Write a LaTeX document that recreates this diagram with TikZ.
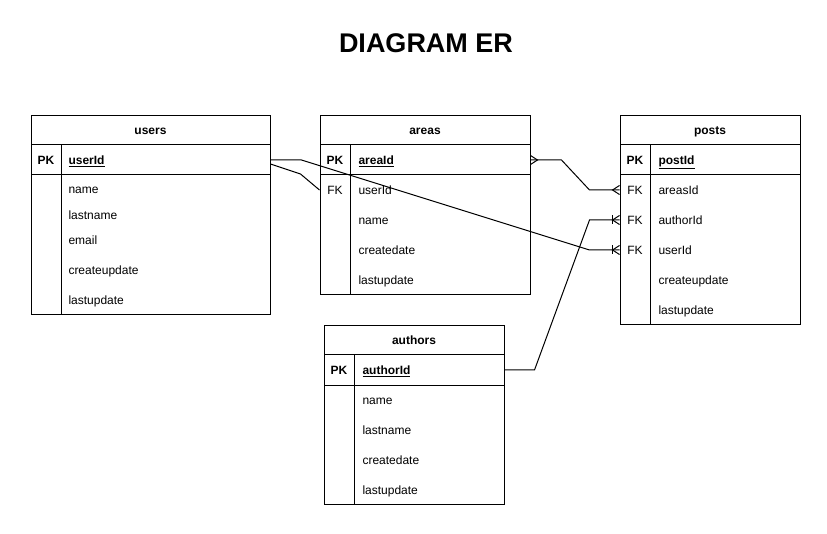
\documentclass[tikz,border=0pt]{standalone}
\usepackage{fontspec}
\setmainfont{Liberation Sans}
\begin{document}
\begin{tikzpicture}[x=1pt,y=-1pt,line width=1pt,
  tbl/.style={draw,line width=1pt,anchor=north west,inner sep=0pt},
  rowbox/.style={inner sep=0pt,minimum height=30pt},
  hdr/.style={anchor=base,inner sep=0pt,font=\fontsize{12}{14}\selectfont\bfseries},
  keylbl/.style={anchor=base,inner sep=0pt,font=\fontsize{12}{14}\selectfont\bfseries},
  fklbl/.style={anchor=base,inner sep=0pt,font=\fontsize{12}{14}\selectfont},
  pkfld/.style={anchor=base west,inner sep=0pt,font=\fontsize{12}{14}\selectfont\bfseries},
  fld/.style={anchor=base west,inner sep=0pt,font=\fontsize{12}{14}\selectfont},
  conn/.style={draw,line width=1pt}]
\fill[white] (0,0) rectangle (827,534);
\useasboundingbox (0,0) rectangle (827,534);

% title
\node[inner sep=0pt,font=\fontsize{27}{30}\selectfont\bfseries] (title) at (426,43) {DIAGRAM ER};

% ---------- users ----------
\node[tbl,minimum width=239pt,minimum height=199pt] (users) at (31,115) {};
\draw (users.north west) ++(0,30) -- ++(239,0);
\draw (users.north west) ++(0,60) -- ++(239,0);
\draw ([xshift=30pt,yshift=-30pt]users.north west) -- ([xshift=30pt]users.south west);
\node[rowbox,minimum width=239pt] (u-userid) at (150.5,160) {};
\node[hdr] (u-h) at (150.5,134.5) {users};
\node[keylbl] (u-pk) at (46,164.5) {PK};
\node[pkfld] (u-f0) at (68,164.5) {\underline{userId}};
\node[fld] (u-f1) at (68,194) {name};
\node[fld] (u-f2) at (68,219.5) {lastname};
\node[fld] (u-f3) at (68,244.5) {email};
\node[fld] (u-f4) at (68,274.5) {createupdate};
\node[fld] (u-f5) at (68,304.5) {lastupdate};

% ---------- areas ----------
\node[tbl,minimum width=210pt,minimum height=179pt] (areas) at (320,115) {};
\draw (areas.north west) ++(0,30) -- ++(210,0);
\draw (areas.north west) ++(0,60) -- ++(210,0);
\draw ([xshift=30pt,yshift=-30pt]areas.north west) -- ([xshift=30pt]areas.south west);
\node[rowbox,minimum width=210pt] (a-areaid) at (425,160) {};
\node[rowbox,minimum width=210pt] (a-userid) at (425,190) {};
\node[hdr] (a-h) at (425,134.5) {areas};
\node[keylbl] (a-pk) at (335,164.5) {PK};
\node[pkfld] (a-f0) at (358,164.5) {\underline{areaId}};
\node[fklbl] (a-fk) at (335,194.5) {FK};
\node[fld] (a-f1) at (358,194.5) {userId};
\node[fld] (a-f2) at (358,224.5) {name};
\node[fld] (a-f3) at (358,254.5) {createdate};
\node[fld] (a-f4) at (358,284.5) {lastupdate};

% ---------- posts ----------
\node[tbl,minimum width=180pt,minimum height=209pt] (posts) at (620,115) {};
\draw (posts.north west) ++(0,30) -- ++(180,0);
\draw (posts.north west) ++(0,60) -- ++(180,0);
\draw ([xshift=30pt,yshift=-30pt]posts.north west) -- ([xshift=30pt]posts.south west);
\node[rowbox,minimum width=180pt] (p-areasid) at (710,190) {};
\node[rowbox,minimum width=180pt] (p-authorid) at (710,220) {};
\node[rowbox,minimum width=180pt] (p-userid) at (710,250) {};
\node[hdr] (p-h) at (710,134.5) {posts};
\node[keylbl] (p-pk) at (635,164.5) {PK};
\node[pkfld] (p-f0) at (658,164.5) {\underline{postId}};
\node[fklbl] (p-fk1) at (635,194.5) {FK};
\node[fld] (p-f1) at (658,194.5) {areasId};
\node[fklbl] (p-fk2) at (635,224.5) {FK};
\node[fld] (p-f2) at (658,224.5) {authorId};
\node[fklbl] (p-fk3) at (635,254.5) {FK};
\node[fld] (p-f3) at (658,254.5) {userId};
\node[fld] (p-f4) at (658,284.5) {createupdate};
\node[fld] (p-f5) at (658,314.5) {lastupdate};

% ---------- authors ----------
\node[tbl,minimum width=180pt,minimum height=179pt] (authors) at (324,325) {};
\draw (authors.north west) ++(0,30) -- ++(180,0);
\draw (authors.north west) ++(0,60) -- ++(180,0);
\draw ([xshift=30pt,yshift=-30pt]authors.north west) -- ([xshift=30pt]authors.south west);
\node[rowbox,minimum width=180pt] (au-authorid) at (414,370) {};
\node[hdr] (au-h) at (414,344.5) {authors};
\node[keylbl] (au-pk) at (339,374.5) {PK};
\node[pkfld] (au-f0) at (362,374.5) {\underline{authorId}};
\node[fld] (au-f1) at (362,404.5) {name};
\node[fld] (au-f2) at (362,434.5) {lastname};
\node[fld] (au-f3) at (362,464.5) {createdate};
\node[fld] (au-f4) at (362,494.5) {lastupdate};

% ---------- connectors ----------
% users.userId -> posts.userId
\draw[conn] (u-userid.east) -- ++(31,0) -- ([xshift=-30pt]p-userid.west) -- (p-userid.west);
% users.userId -> areas.userId
\draw[conn] ([yshift=-4pt]u-userid.east) -- ++(30,10) -- (a-userid.west);
% areas.areaId -> posts.areasId
\draw[conn] (a-areaid.east) -- ++(31,0) -- ([xshift=-30pt]p-areasid.west) -- (p-areasid.west);
% authors.authorId -> posts.authorId
\draw[conn] (au-authorid.east) -- ++(30,0) -- ([xshift=-30pt]p-authorid.west) -- (p-authorid.west);

% markers
\draw[conn] ([yshift=4.5pt]a-areaid.east) -- ++(7,4.5) -- ++(-7,4.5);
\draw[conn] ([yshift=4.5pt]p-areasid.west) -- ++(-7,4.5) -- ++(7,4.5);
\draw[conn] ([yshift=4.5pt]p-authorid.west) -- ++(-7,4.5) -- ++(7,4.5);
\draw[conn] ([xshift=-7pt,yshift=4.5pt]p-authorid.west) -- ++(0,9);
\draw[conn] ([yshift=4.5pt]p-userid.west) -- ++(-7,4.5) -- ++(7,4.5);
\draw[conn] ([xshift=-7pt,yshift=4.5pt]p-userid.west) -- ++(0,9);
\end{tikzpicture}
\end{document}
